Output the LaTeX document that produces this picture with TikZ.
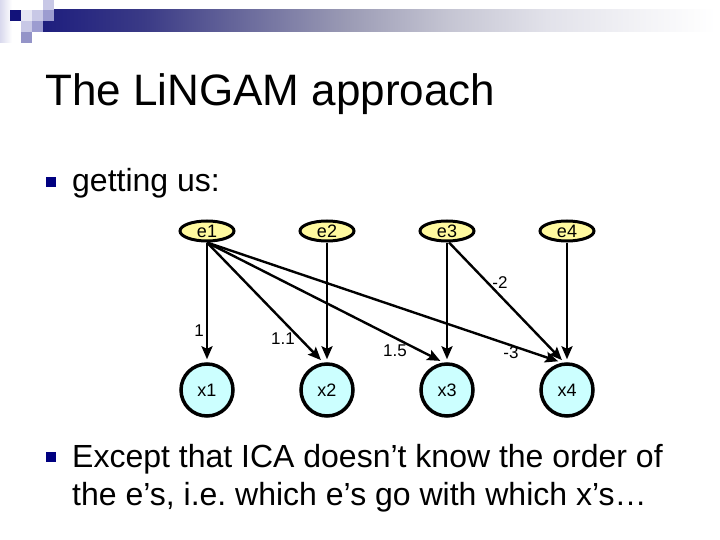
\documentclass[tikz,border=0pt]{standalone}
\usepackage{fontspec}
\setmainfont{Liberation Sans}
\usetikzlibrary{shapes.geometric,arrows.meta}
\definecolor{navysq}{HTML}{12127A}
\definecolor{lav1}{HTML}{E6E6F4}
\definecolor{lav2}{HTML}{C8C8E6}
\definecolor{lav3}{HTML}{9C9CD0}
\definecolor{lav4}{HTML}{9494C8}
\definecolor{bulletblue}{HTML}{000080}
\definecolor{eyellow}{HTML}{FFF99E}
\definecolor{xcyan}{HTML}{CCFFFF}
\definecolor{barA}{HTML}{1E1E7E}
\definecolor{barB}{HTML}{3A3A86}
\definecolor{barC}{HTML}{6A6A9C}
\definecolor{barD}{HTML}{9A9AB4}
\definecolor{barE}{HTML}{C4C4D2}
\definecolor{barF}{HTML}{E2E2EA}
\definecolor{barG}{HTML}{F4F4F7}
\pgfdeclarehorizontalshading{barshade}{100bp}{color(0bp)=(barA); color(25bp)=(barA); color(32.5bp)=(barB); color(40bp)=(barC); color(47.5bp)=(barD); color(55bp)=(barE); color(62.5bp)=(barF); color(70bp)=(barG); color(75bp)=(white); color(100bp)=(white)}
\frenchspacing
\begin{document}
\begin{tikzpicture}[x=1pt,y=-1pt,
  enode/.style={ellipse, draw=black, line width=3pt, fill=eyellow, minimum width=54pt, minimum height=20pt, inner sep=0pt, font=\fontsize{18}{21}\selectfont},
  xnode/.style={circle, draw=black, line width=3.5pt, fill=xcyan, minimum size=52pt, inner sep=0pt, font=\fontsize{18}{21}\selectfont},
  arrowline/.style={line width=2.4pt, shorten >=3pt, -{Stealth[length=13pt,width=11pt,inset=2.5pt]}},
  wlabel/.style={font=\fontsize{17}{20}\selectfont, inner sep=0pt},
  bulletsq/.style={fill=bulletblue, minimum size=10pt, inner sep=0pt, draw=none},
  bodytext/.style={anchor=base west, inner sep=0pt, font=\fontsize{32}{38}\selectfont},
  ]
\useasboundingbox (0,0) rectangle (720,540);
\fill[white] (0,0) rectangle (720,540);
% banner
\shade[left color=lav2!70, right color=white] (0,0) rectangle (12,43);
\shade[shading=barshade] (43,10) rectangle (715,32);
\fill[navysq] (10,10) rectangle (21,21);
\fill[lav1] (21,10) rectangle (32,21);
\fill[lav2] (32,10) rectangle (43,21);
\fill[lav2] (43,0) rectangle (54,10);
\fill[lav3] (43,10) rectangle (54,21);
\fill[lav2] (21,21) rectangle (32,32);
\fill[lav3] (32,21) rectangle (43,32);
\fill[lav4] (21,32) rectangle (32,43);
% title
\node[anchor=base west, inner sep=0pt, font=\fontsize{44}{53}\selectfont] (title) at (45,106) {The LiNGAM approach};
% bullets
\node[bulletsq] (b1) at (51,182) {};
\node[bodytext] (t1) at (72,192) {getting us:};
\node[bulletsq] (b2) at (51,457) {};
\node[bodytext] (t2) at (72,467) {Except that ICA doesn’t know the order of};
\node[bodytext] (t3) at (72,505) {the e’s, i.e. which e’s go with which x’s…};
% diagram
\node[enode] (e1) at (207,231) {e1};
\node[enode] (e2) at (327,231) {e2};
\node[enode] (e3) at (447,231) {e3};
\node[enode] (e4) at (567,231) {e4};
\node[xnode] (x1) at (207,390) {x1};
\node[xnode] (x2) at (327,390) {x2};
\node[xnode] (x3) at (447,390) {x3};
\node[xnode] (x4) at (567,390) {x4};
\draw[arrowline] (e1.south) -- (x1.north);
\draw[arrowline] (e1.south) -- ([xshift=-4pt]x2.north);
\draw[arrowline] (e1.south) -- ([xshift=-4pt]x3.north);
\draw[arrowline] (e1.south) -- ([xshift=-6pt]x4.north);
\draw[arrowline] (e2.south) -- (x2.north);
\draw[arrowline] (e3.south) -- (x3.north);
\draw[arrowline] ([xshift=2pt]e3.south) -- ([xshift=-3pt]x4.north);
\draw[arrowline] (e4.south) -- (x4.north);
% weights
\node[wlabel] (w1) at (199,331) {1};
\node[wlabel] (w2) at (283,339) {1.1};
\node[wlabel] (w3) at (395,351) {1.5};
\node[wlabel] (w4) at (511,353) {-3};
\node[wlabel] (w5) at (500,283) {-2};
\end{tikzpicture}
\end{document}
